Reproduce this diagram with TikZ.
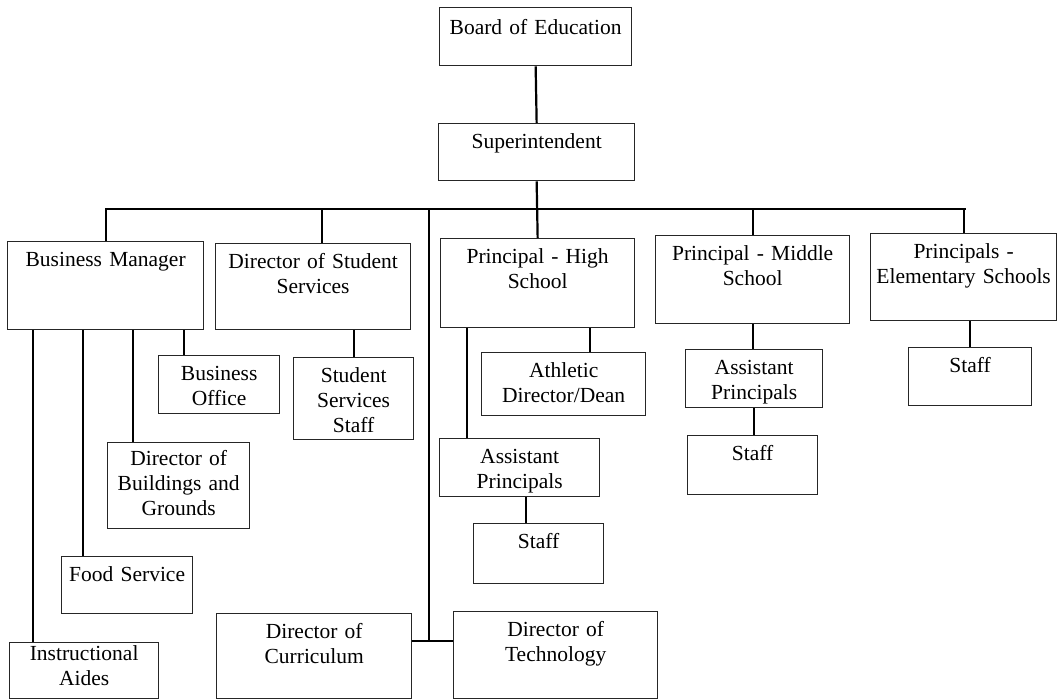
\documentclass[tikz,border=0pt]{standalone}
\usepackage{fontspec}
\setmainfont{Liberation Serif}
\usetikzlibrary{positioning}

\begin{document}
\begin{tikzpicture}[x=1pt, y=-1pt]

\tikzset{unit/.style = {draw=black!85, line width=1.3pt, inner sep=0pt, anchor=north west,
  align=center, text height=25pt, font=\fontsize{21.5}{25}\selectfont}}
\tikzset{link/.style = {line width=2.2pt}}
\useasboundingbox (0,0) rectangle (1058,700);
% boxes
\node[unit, text width=192pt, text height=27pt, text depth=31pt] (board) at (439,7) {Board of Education};
\node[unit, text width=196pt, text depth=32pt] (supt) at (438,123) {Superintendent};
\node[unit, text width=196pt, text depth=63pt] (bm) at (7,241) {Business Manager};
\node[unit, text width=195pt, text depth=61pt] (dss) at (215,243) {Director of Student\\Services};
\node[unit, text width=194pt, text depth=64pt] (phs) at (440,238) {Principal - High\\School};
\node[unit, text width=194pt, text depth=63pt] (pms) at (655,235) {Principal - Middle\\School};
\node[unit, text width=186pt, text depth=62pt] (pes) at (870,233) {Principals -\\Elementary Schools};
\node[unit, text width=121pt, text depth=33pt] (bo) at (158,355) {Business\\Office};
\node[unit, text width=120pt, text depth=57pt] (sss) at (293,357) {Student\\Services\\Staff};
\node[unit, text width=164pt, text depth=38pt] (ad) at (481,352) {Athletic\\Director/Dean};
\node[unit, text width=160pt, text depth=33pt] (hsap) at (439,438) {Assistant\\Principals};
\node[unit, text width=130pt, text depth=35pt] (hsstaff) at (473,523) {Staff};
\node[unit, text width=137pt, text depth=33pt] (msap) at (685,349) {Assistant\\Principals};
\node[unit, text width=130pt, text depth=34pt] (msstaff) at (687,435) {Staff};
\node[unit, text width=123pt, text depth=33pt] (esstaff) at (908,347) {Staff};
\node[unit, text width=142pt, text height=23pt, text depth=63pt] (dbg) at (107,442) {Director of\\Buildings and\\Grounds};
\node[unit, text width=131pt, text depth=32pt] (fs) at (61,556) {Food Service};
\node[unit, text width=149pt, text height=18pt, text depth=38pt] (ia) at (9,642) {Instructional\\Aides};
\node[unit, text width=195pt, text depth=60pt] (dc) at (216,613) {Director of\\Curriculum};
\node[unit, text width=204pt, text depth=62pt] (dt) at (453,611) {Director of\\Technology};
% bus
\coordinate (busl) at (105,209);
\coordinate (busr) at (966,209);
\coordinate (tech) at (429,641);
%edges
\draw[link] (board.south) -- (supt.north);
\draw[link] (supt.south) -- (phs.north);
\draw[link] (busl) -- (busr);
\draw[link] (bm.north) -- (bm.north |- busl);
\draw[link] ([xshift=9pt]dss.north) -- ([xshift=9pt]dss.north |- busl);
\draw[link] (pms.north) -- (pms.north |- busl);
\draw[link] (pes.north) -- (pes.north |- busl);
\draw[link] (tech |- busl) -- (tech);
\draw[link] (dc.east |- tech) -- (dt.west |- tech);
\draw[link] ([xshift=24pt]ia.north west) -- ([xshift=24pt]ia.north west |- bm.south);
\draw[link] ([xshift=22pt]fs.north west) -- ([xshift=22pt]fs.north west |- bm.south);
\draw[link] ([xshift=26pt]dbg.north west) -- ([xshift=26pt]dbg.north west |- bm.south);
\draw[link] ([xshift=26pt]bo.north west) -- ([xshift=26pt]bo.north west |- bm.south);
\draw[link] (sss.north) -- (sss.north |- dss.south);
\draw[link] ([xshift=28pt]hsap.north west) -- ([xshift=28pt]hsap.north west |- phs.south);
\draw[link] ([xshift=-56pt]ad.north east) -- ([xshift=-56pt]ad.north east |- phs.south);
\draw[link] ([xshift=6pt]hsap.south) -- ([xshift=6pt]hsap.south |- hsstaff.north);
\draw[link] (pms.south) -- (pms.south |- msap.north);
\draw[link] (msap.south) -- (msap.south |- msstaff.north);
\draw[link] (esstaff.north) -- (esstaff.north |- pes.south);
\end{tikzpicture}
\end{document}
